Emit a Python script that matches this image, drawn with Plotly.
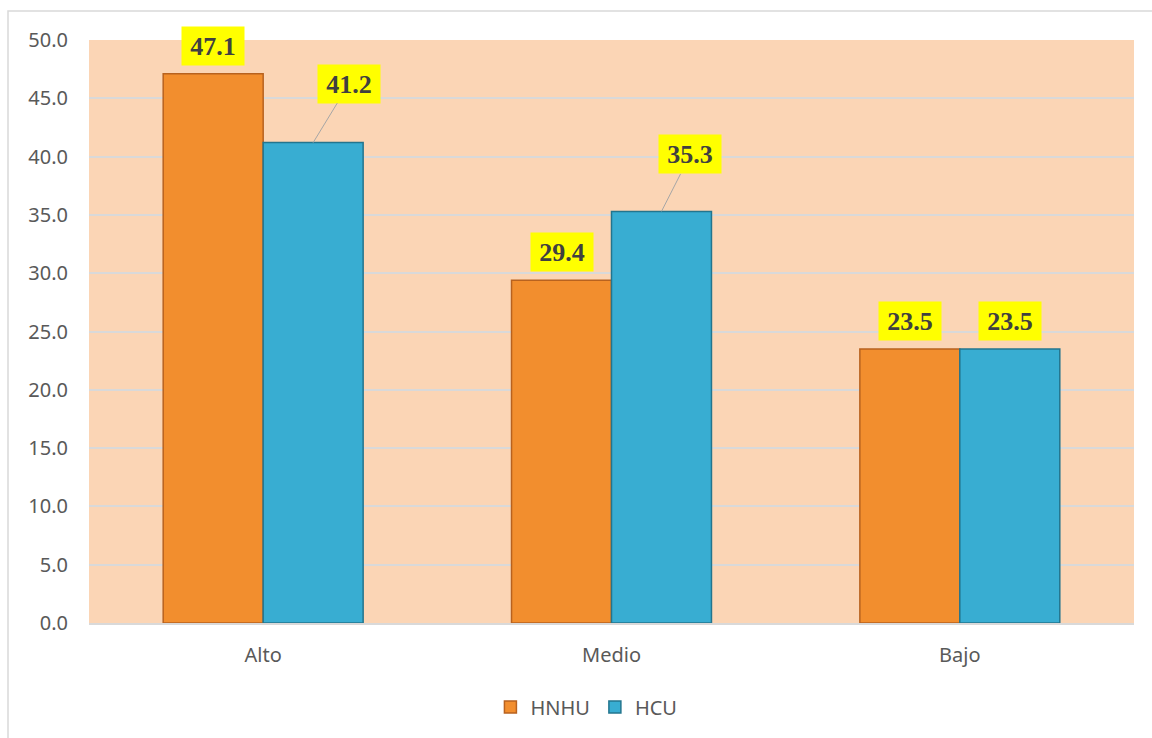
import plotly.graph_objects as go

categories = ["Alto", "Medio", "Bajo"]
hnhu = [47.1, 29.4, 23.5]
hcu = [41.2, 35.3, 23.5]
series_names = ["HNHU", "HCU"]
y_ticks = [0, 5, 10, 15, 20, 25, 30, 35, 40, 45, 50]

ORANGE = "#F28E2E"
ORANGE_LINE = "#B8621F"
CYAN = "#38ADD2"
CYAN_LINE = "#23758E"

BARGAP = 0.426
bar_w = (1 - BARGAP) / 2

fig = go.Figure()
fig.add_trace(go.Bar(x=categories, y=hnhu, name=series_names[0],
                     marker=dict(color=ORANGE, line=dict(color=ORANGE_LINE, width=1.5))))
fig.add_trace(go.Bar(x=categories, y=hcu, name=series_names[1],
                     marker=dict(color=CYAN, line=dict(color=CYAN_LINE, width=1.5))))

annotations = []
label_font = dict(family="Liberation Serif, Times New Roman, serif", size=26, color="#404040")
# leader-line offsets (pixels) for labels that were moved in the original
moved = {(1, 0): (36, -59), (1, 1): (29, -57)}
for s, vals in enumerate([hnhu, hcu]):
    off = -bar_w / 2 if s == 0 else bar_w / 2
    for i, v in enumerate(vals):
        base = dict(x=i + off, y=v, xref="x", yref="y", text="<b>%.1f</b>" % v,
                    font=label_font, bgcolor="#FFFF00", width=58, height=34, borderpad=2)
        if (s, i) in moved:
            ax, ay = moved[(s, i)]
            annotations.append(dict(base, showarrow=True, ax=ax, ay=ay, arrowhead=0,
                                    arrowwidth=1, arrowcolor="#A6A6A6", standoff=0))
        else:
            annotations.append(dict(base, showarrow=False, yanchor="bottom", yshift=8))

fig.update_layout(
    width=1152, height=738,
    margin=dict(l=89, r=18, t=40, b=115),
    paper_bgcolor="white",
    plot_bgcolor="#FBD5B5",
    barmode="group", bargap=BARGAP, bargroupgap=0,
    font=dict(family="Noto Sans, Open Sans, sans-serif", size=20, color="#595959"),
    xaxis=dict(showgrid=False, showline=True, linecolor="#D9D9D9", linewidth=2,
               ticks="", ticklabelstandoff=13, tickfont=dict(size=20, color="#595959")),
    yaxis=dict(range=[0, 50], tickvals=y_ticks, tickformat=".1f", showgrid=True,
               gridcolor="#D9D9D9", gridwidth=2, zeroline=False, showline=False,
               ticks="", ticklabelstandoff=20, tickfont=dict(size=20, color="#595959")),
    legend=dict(orientation="h", x=0.476, xanchor="center", y=-0.144, yanchor="middle",
                font=dict(size=20, color="#595959"), itemwidth=30, traceorder="normal"),
    annotations=annotations,
    shapes=[dict(type="rect", xref="paper", yref="paper",
                 x0=(8 - 89) / 1045, x1=(1170 - 89) / 1045,
                 y0=(623 - 760) / 583, y1=1 + (40 - 11) / 583,
                 line=dict(color="#D9D9D9", width=1.5), fillcolor="rgba(0,0,0,0)", layer="below")],
)

fig.write_html("out.html")
